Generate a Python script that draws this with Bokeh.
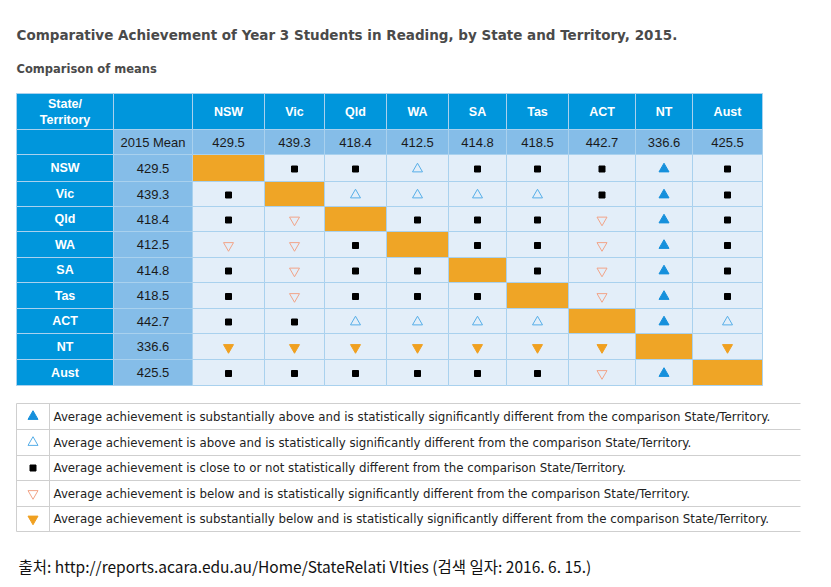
from bokeh.plotting import figure
from bokeh.models import Range1d
from bokeh.core.properties import value
from bokeh.embed import file_html
from bokeh.resources import INLINE

# ---------------- data ----------------
title = "Comparative Achievement of Year 3 Students in Reading, by State and Territory, 2015."
subtitle = "Comparison of means"
states = ["NSW", "Vic", "Qld", "WA", "SA", "Tas", "ACT", "NT", "Aust"]
means = [429.5, 439.3, 418.4, 412.5, 414.8, 418.5, 442.7, 336.6, 425.5]
# codes: D = same state, S = close / not different, U = substantially above,
# u = above, d = below, L = substantially below
matrix = [
    ["D", "S", "S", "u", "S", "S", "S", "U", "S"],
    ["S", "D", "u", "u", "u", "u", "S", "U", "S"],
    ["S", "d", "D", "S", "S", "S", "d", "U", "S"],
    ["d", "d", "S", "D", "S", "S", "d", "U", "S"],
    ["S", "d", "S", "S", "D", "S", "d", "U", "S"],
    ["S", "d", "S", "S", "S", "D", "d", "U", "S"],
    ["S", "S", "u", "u", "u", "u", "D", "U", "u"],
    ["L", "L", "L", "L", "L", "L", "L", "D", "L"],
    ["S", "S", "S", "S", "S", "S", "d", "U", "D"],
]
legend_codes = ["U", "u", "S", "d", "L"]
legend_texts = [
    "Average achievement is substantially above and is statistically significantly different from the comparison State/Territory.",
    "Average achievement is above and is statistically significantly different from the comparison State/Territory.",
    "Average achievement is close to or not statistically different from the comparison State/Territory.",
    "Average achievement is below and is statistically significantly different from the comparison State/Territory.",
    "Average achievement is substantially below and is statistically significantly different from the comparison State/Territory.",
]
source_note = "출처: http://reports.acara.edu.au/Home/StateRelati VIties (검색 일자: 2016. 6. 15.)"

# ---------------- layout / style ----------------
col_edges = [16, 113, 192, 264, 324, 386, 448, 506, 568, 635, 692, 762]
row_edges = [93, 129, 154, 181, 206, 231, 257, 282, 308, 333, 359, 385]
leg_edges = [403, 429, 455, 480, 506, 531]
leg_x = [16, 49, 800]

HDR = "#0096dc"
MID = "#85bde8"
BODY = "#e3eef9"
GRID = "#a9d1ee"
ORANGE = "#efa526"
FONT = "Liberation Sans"

marker_style = {
    "S": dict(marker="square", size=6, fill_color="#000000", line_color="#000000", fill_alpha=1.0),
    "U": dict(marker="triangle", size=10, fill_color="#1690dc", line_color="#1690dc", fill_alpha=1.0),
    "u": dict(marker="triangle", size=10, fill_color="#ffffff", line_color="#56aee8", fill_alpha=0.0),
    "d": dict(marker="inverted_triangle", size=10, fill_color="#ffffff", line_color="#f2a488", fill_alpha=0.0),
    "L": dict(marker="inverted_triangle", size=10, fill_color="#f0a020", line_color="#f0a020", fill_alpha=1.0),
}

W, H = 823, 579
p = figure(width=W, height=H, output_backend="svg", toolbar_location=None,
           x_range=Range1d(0, W), y_range=Range1d(H, 0), min_border=0)
p.axis.visible = False
p.grid.visible = False
p.outline_line_color = None

# ---------------- table cells ----------------
L, R, T, B, C = [], [], [], [], []
def cell(c0, r0, color):
    L.append(col_edges[c0]); R.append(col_edges[c0 + 1])
    T.append(row_edges[r0]); B.append(row_edges[r0 + 1]); C.append(color)

cell(0, 0, HDR); cell(1, 0, HDR); cell(0, 1, HDR); cell(1, 1, MID)
for j in range(len(states)):
    cell(j + 2, 0, HDR)
    cell(j + 2, 1, MID)
for i in range(len(states)):
    cell(0, i + 2, HDR)
    cell(1, i + 2, MID)
    for j in range(len(states)):
        cell(j + 2, i + 2, ORANGE if matrix[i][j] == "D" else BODY)

p.quad(left=L, right=R, top=T, bottom=B, fill_color=C, line_color=GRID, line_width=1)

# ---------------- texts in table ----------------
def cx(c): return (col_edges[c] + col_edges[c + 1]) / 2
def cy(r): return (row_edges[r] + row_edges[r + 1]) / 2

hx, hy, ht = [], [], []
for j, s in enumerate(states):
    hx.append(cx(j + 2)); hy.append(cy(0)); ht.append(s)
for i, s in enumerate(states):
    hx.append(cx(0)); hy.append(cy(i + 2)); ht.append(s)
hx += [cx(0), cx(0)]; hy += [cy(0) - 7.5, cy(0) + 8.5]; ht += ["State/", "Territory"]
p.text(x=hx, y=hy, text=ht, text_color="white", text_font=value(FONT), text_font_style="bold",
       text_font_size="12.5px", text_align="center", text_baseline="middle")

vx, vy, vt = [cx(1)], [cy(1)], ["2015 Mean"]
for j, m in enumerate(means):
    vx.append(cx(j + 2)); vy.append(cy(1)); vt.append(f"{m:.1f}")
for i, m in enumerate(means):
    vx.append(cx(1)); vy.append(cy(i + 2)); vt.append(f"{m:.1f}")
p.text(x=vx, y=vy, text=vt, text_color="#1a1a1a", text_font=value(FONT),
       text_font_size="13px", text_align="center", text_baseline="middle")

# ---------------- markers ----------------
for code, st in marker_style.items():
    xs, ys = [], []
    for i in range(len(states)):
        for j in range(len(states)):
            if matrix[i][j] == code:
                xs.append(cx(j + 2)); ys.append(cy(i + 2) + 1)
    if xs:
        p.scatter(x=xs, y=ys, line_width=1, **st)

# ---------------- legend table ----------------
LG = "#cfcfcf"
p.segment(x0=[leg_x[0]] * len(leg_edges), x1=[leg_x[2]] * len(leg_edges),
          y0=leg_edges, y1=leg_edges, line_color=LG, line_width=1)
p.segment(x0=leg_x[:2], x1=leg_x[:2], y0=[leg_edges[0]] * 2, y1=[leg_edges[-1]] * 2,
          line_color=LG, line_width=1)
lmid = [(leg_edges[k] + leg_edges[k + 1]) / 2 for k in range(len(legend_codes))]
for k, code in enumerate(legend_codes):
    p.scatter(x=[(leg_x[0] + leg_x[1]) / 2], y=[lmid[k]], line_width=1, **marker_style[code])
p.text(x=[leg_x[1] + 4] * len(legend_texts), y=lmid, text=legend_texts, text_color="#222222",
       text_font=value("DejaVu Sans"), text_font_size="11.8px", text_align="left", text_baseline="middle")

# ---------------- titles / footer ----------------
p.text(x=[16], y=[34], text=[title], text_color="#4a4a4a", text_font=value("DejaVu Sans"),
       text_font_style="bold", text_font_size="13.5px", text_align="left", text_baseline="middle")
p.text(x=[16], y=[68], text=[subtitle], text_color="#4a4a4a", text_font=value("DejaVu Sans"),
       text_font_style="bold", text_font_size="11.5px", text_align="left", text_baseline="middle")
p.text(x=[18], y=[565], text=[source_note], text_color="#111111", text_font=value("Noto Sans CJK KR"),
       text_font_size="15.5px", text_align="left", text_baseline="middle")

open("out.html", "w").write(file_html(p, INLINE))
